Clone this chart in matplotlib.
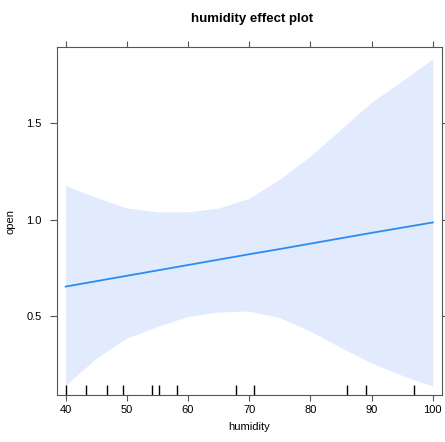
import matplotlib
matplotlib.use("Agg")
import matplotlib.pyplot as plt

plt.rcParams['font.family'] = ['Liberation Sans', 'DejaVu Sans']

# humidity grid and effect estimate with its confidence band
humidity = [40, 45, 50, 55, 60, 65, 70, 75, 80, 85, 90, 95, 100]
fit = [0.652, 0.680, 0.708, 0.736, 0.764, 0.792, 0.820, 0.847, 0.875, 0.903, 0.931, 0.958, 0.985]
upper = [1.177, 1.115, 1.06, 1.04, 1.04, 1.06, 1.11, 1.21, 1.33, 1.47, 1.61, 1.72, 1.835]
lower = [0.14, 0.28, 0.385, 0.445, 0.497, 0.52, 0.525, 0.49, 0.42, 0.335, 0.255, 0.19, 0.135]

# observed humidity values (rug)
rug = [40, 43.3, 46.8, 49.3, 54.1, 55.2, 58.2, 67.9, 70.8, 86.0, 89.0, 97.0]

xticks = [40, 50, 60, 70, 80, 90, 100]
yticks = [0.5, 1.0, 1.5]

fig = plt.figure(figsize=(4.45, 4.42), dpi=100)
ax = fig.add_axes([0.128, 0.1063, 0.8646, 0.7874])

ax.fill_between(humidity, lower, upper, color='#e2ebfd', linewidth=0)
ax.plot(humidity, fit, color='#2b8cf2', linewidth=1.3)
ax.vlines(rug, 0, 0.03, transform=ax.get_xaxis_transform(), color='black', linewidth=1.0)

ax.set_xlim(38.58, 101.45)
ax.set_ylim(0.089, 1.896)
ax.set_xticks(xticks)
ax.set_xticklabels([str(v) for v in xticks])
ax.set_yticks(yticks)
ax.set_yticklabels(['0.5', '1.0', '1.5'])

for s in ax.spines.values():
    s.set_color('#555555')
    s.set_linewidth(0.8)
ax.tick_params(axis='x', top=True, direction='out', length=4.5, width=0.8,
               color='#555555', labelsize=8, pad=3)
ax.tick_params(axis='y', right=True, direction='out', length=5, width=0.8,
               color='#555555', labelsize=8, pad=6)

ax.set_xlabel('humidity', fontsize=8, labelpad=5)
ax.set_ylabel('open', fontsize=8, labelpad=8)
fig.text(0.5665, 0.958, 'humidity effect plot', ha='center', va='center',
         fontsize=9.5, fontweight='bold')

fig.savefig('out.png', dpi=100)
